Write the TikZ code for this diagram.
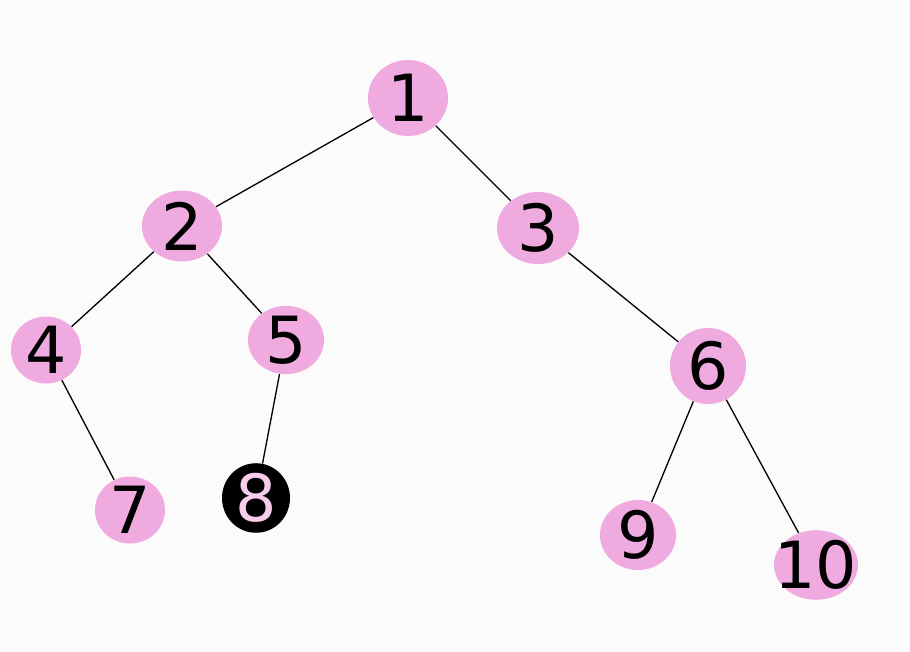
\documentclass[tikz,border=0pt]{standalone}
\usepackage{fontspec}
\setmainfont{DejaVu Sans}
\usetikzlibrary{shapes.geometric}
\definecolor{nodepink}{RGB}{239,170,223}
\definecolor{paper}{RGB}{252,251,252}

\begin{document}
\begin{tikzpicture}[
    treenode/.style={ellipse, fill=nodepink, inner sep=0pt,
      minimum width=1.5cm, minimum height=1.38cm,
      font=\fontsize{37}{44}\selectfont},
    blacknode/.style={treenode, fill=black, text=nodepink!60!white,
      minimum width=1.36cm, minimum height=1.36cm},
    edge/.style={draw=black, line width=0.75pt}
  ]
    \fill[paper] (0,0) rectangle (18.2,13.04);
    \useasboundingbox (0,0) rectangle (18.2,13.04);

    % nodes
    \node[treenode, minimum width=1.6cm, minimum height=1.52cm] (n1) at (8.16,11.08) {1};
    \node[treenode, minimum width=1.6cm, minimum height=1.42cm] (n2) at (3.64,8.52) {2};
    \node[treenode, minimum width=1.64cm, minimum height=1.44cm] (n3) at (10.76,8.48) {3};
    \node[treenode, minimum width=1.4cm, minimum height=1.3cm] (n4) at (0.92,6.04) {4};
    \node[treenode, minimum width=1.52cm, minimum height=1.32cm] (n5) at (5.72,6.24) {5};
    \node[treenode, minimum width=1.52cm, minimum height=1.52cm] (n6) at (14.16,5.72) {6};
    \node[treenode, minimum width=1.4cm, minimum height=1.32cm] (n7) at (2.6,2.84) {7};
    \node[blacknode] (n8) at (5.12,3.08) {8};
    \node[treenode, minimum width=1.52cm, minimum height=1.4cm] (n9) at (12.76,2.34) {9};
    \node[treenode, minimum width=1.68cm, minimum height=1.32cm] (n10) at (16.32,1.74) {\makebox[0pt]{10}};

    % edges
    \draw[edge] (n1) -- (n2);
    \draw[edge] (n1) -- (n3);
    \draw[edge] (n2) -- (n4);
    \draw[edge] (n2) -- (n5);
    \draw[edge] (n3) -- (n6);
    \draw[edge] (n4) -- (n7);
    \draw[edge] (n5) -- (n8);
    \draw[edge] (n6) -- (n9);
    \draw[edge] (n6) -- (n10);
\end{tikzpicture}
\end{document}
